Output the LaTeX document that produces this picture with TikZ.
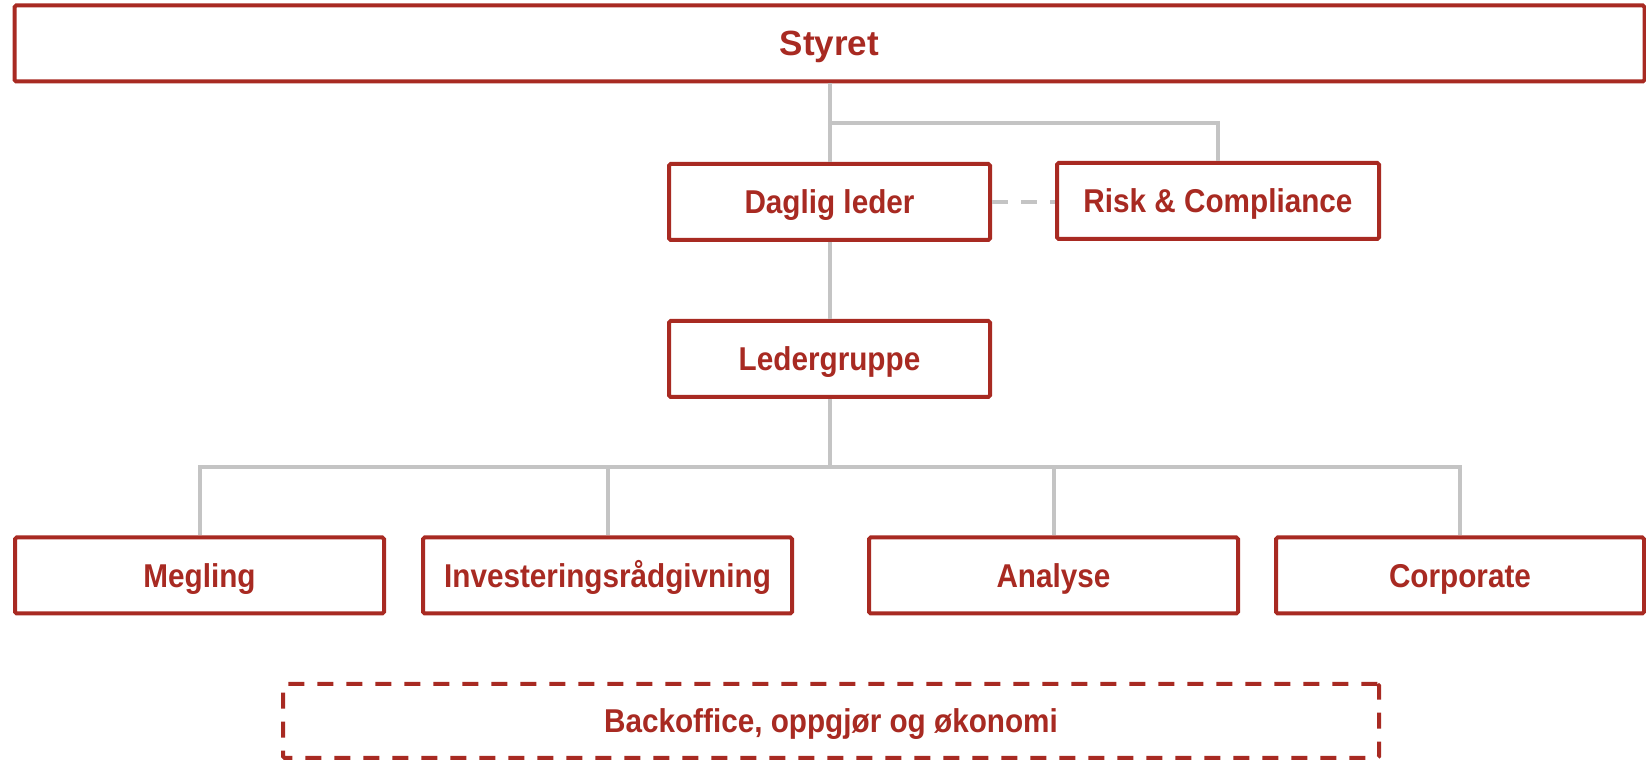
\documentclass[tikz,border=0pt]{standalone}
\usepackage{fontspec}
\setmainfont{Liberation Sans}[FakeStretch=0.9]
\newfontfamily\headfont{Liberation Sans}
\definecolor{brand}{RGB}{168,42,34}
\definecolor{conn}{RGB}{196,196,196}
\begin{document}
\begin{tikzpicture}[x=0.5pt,y=-0.5pt,
  unitbox/.style={draw=brand, line width=2pt, rounded corners=0.8pt, fill=white,
    text=brand, font=\bfseries\fontsize{16.5}{19}\selectfont, inner sep=0pt,
    text height=11.8pt, text depth=0pt, minimum height=38pt},
  topbox/.style={unitbox, font=\headfont\bfseries\fontsize{17.5}{21}\selectfont, text height=12.5pt},
  dashbox/.style={unitbox, dash pattern=on 8pt off 6.5pt},
  link/.style={draw=conn, line width=2pt},
  dashlink/.style={link, dash pattern=on 8pt off 6.5pt}]
\useasboundingbox (0,0) rectangle (1646,764);

% board and management
\node[topbox, minimum width=815pt] (styret) at (829.5,43.5) {Styret};
\node[unitbox, minimum width=160.5pt] (daglig) at (829.5,202) {Daglig leder};
\node[unitbox, minimum width=161pt] (risk) at (1218,201) {Risk \& Compliance};
\node[unitbox, minimum width=160.5pt] (leder) at (829.5,359) {Ledergruppe};

% business units
\node[unitbox, minimum width=184.5pt] (megling) at (199.5,575.5) {Megling};
\node[unitbox, minimum width=184.5pt] (invest) at (607.5,575.5) {Investeringsrådgivning};
\node[unitbox, minimum width=184.5pt] (analyse) at (1053.5,575.5) {Analyse};
\node[unitbox, minimum width=184pt] (corp) at (1460,575.5) {Corporate};

% shared support function
\node[dashbox, minimum width=548pt, minimum height=37pt] (back) at (831,721) {Backoffice, oppgjør og økonomi};

% connectors
\coordinate (split) at (829.5,123);
\coordinate (bus) at (829.5,467);
\draw[link] (styret.south) -- (daglig.north);
\draw[link] (split) -| (risk.north);
\draw[dashlink] (daglig.east) -- (daglig.east -| risk.west);
\draw[link] (daglig.south) -- (leder.north);
\draw[link] (leder.south) -- (bus);
\draw[link] (megling.north) |- (bus) -| (corp.north);
\draw[link] (invest.north) -- (invest.north |- bus);
\draw[link] (analyse.north) -- (analyse.north |- bus);
\end{tikzpicture}
\end{document}
